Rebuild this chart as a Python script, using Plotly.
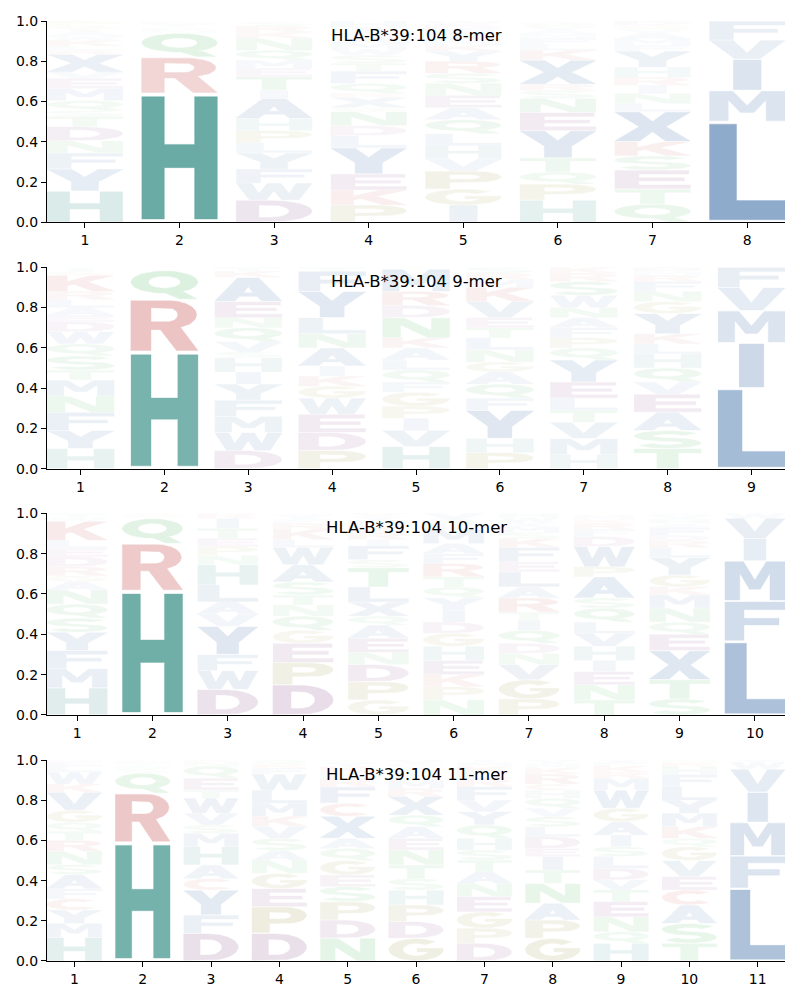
import numpy as np
import plotly.graph_objects as go
from plotly.subplots import make_subplots

TITLES = ["HLA-B*39:104 8-mer", "HLA-B*39:104 9-mer",
          "HLA-B*39:104 10-mer", "HLA-B*39:104 11-mer"]

# letters stacked bottom -> top, with heights (probability) per position
MER8_LETTERS = ["HYFNDTSQMEVXRLKWAIGP", "HRQNKSYFE", "DWFYLPHAITEMQNKRS",
                "PKEYLDNGXRQFTSWMAVIH", "IGPVHLQAENSRYKMTFDW", "HPQTYENSRXKLFMAVG",
                "QTESKXLNIRHYFMAVGD", "LMIVF"]
MER8_HEIGHTS = [
    [.155, .11, .08, .06, .07, .05, .03, .05, .06, .05, .03, .09, .02, .02, .03, .02, .02, .015, .015, .025],
    [.64, .18, .12, .015, .01, .01, .01, .01, .005],
    [.11, .085, .07, .08, .05, .06, .06, .10, .04, .07, .04, .04, .05, .06, .03, .03, .02],
    [.085, .075, .08, .13, .06, .05, .07, .02, .05, .02, .05, .06, .04, .04, .03, .03, .03, .02, .03, .03],
    [.085, .08, .09, .06, .065, .06, .07, .06, .06, .06, .05, .06, .05, .03, .03, .03, .02, .02, .02],
    [.11, .08, .06, .07, .135, .09, .07, .04, .03, .12, .05, .03, .03, .02, .02, .02, .02],
    [.09, .075, .095, .07, .07, .15, .04, .05, .04, .04, .05, .08, .03, .03, .03, .02, .02, .02],
    [.50, .155, .155, .095, .095],
]

MER9_LETTERS = ["HYFNMTSQWDEALRKGI", "HRQKNS", "DWMFYIHSVQNEAKT", "PDEWGKIANLYFT",
                "HVIPGFQLAKNDRMS", "PHYFQAGNLTEVKMRS", "HMVTLEYQPFANWSRK",
                "TSAEVQHLKYGNFRMD", "LIMVF"]
MER9_HEIGHTS = [
    [.10, .09, .09, .08, .08, .05, .07, .06, .06, .05, .03, .04, .04, .04, .08, .02, .02],
    [.58, .26, .145, .005, .005, .005],
    [.09, .09, .08, .08, .08, .06, .07, .03, .05, .07, .05, .08, .12, .03, .02],
    [.09, .09, .09, .08, .06, .05, .05, .09, .07, .08, .13, .10, .02],
    [.11, .08, .06, .06, .07, .05, .06, .05, .06, .05, .10, .06, .07, .11, .01],
    [.08, .07, .14, .06, .07, .06, .05, .06, .06, .05, .05, .08, .07, .04, .03, .03],
    [.07, .08, .08, .06, .06, .08, .11, .06, .05, .05, .05, .05, .06, .07, .04, .03],
    [.10, .09, .09, .09, .06, .07, .07, .05, .05, .10, .06, .05, .05, .03, .02, .02],
    [.40, .225, .16, .115, .10],
]

MER10_LETTERS = ["HMFYSQNAGRDELKWT", "HRQNSK", "DWFYVALHNPETIR", "DPEGQNTSAWLKRFYV",
                 "GPDNEAQXLTSFIRKMYV", "NPKEHGDIYQTRFAMLSV", "PGVNDQITRALEFKSMYWH",
                 "TNEIHVLQSAPWDFRKMG", "STXEQNMKGYLRDFAHVW", "LFMIVW"]
MER10_HEIGHTS = [
    [.135, .095, .09, .09, .07, .07, .07, .04, .03, .045, .05, .04, .04, .095, .02, .02],
    [.615, .235, .125, .01, .008, .007],
    [.127, .093, .08, .14, .06, .06, .085, .10, .045, .045, .04, .05, .05, .025],
    [.15, .11, .095, .065, .07, .055, .05, .065, .085, .085, .04, .05, .03, .02, .02, .01],
    [.075, .09, .085, .06, .07, .065, .045, .07, .075, .095, .04, .07, .03, .035, .03, .03, .02, .015],
    [.075, .065, .06, .07, .07, .065, .055, .06, .06, .055, .05, .065, .05, .05, .07, .03, .02, .03],
    [.08, .095, .075, .055, .05, .065, .05, .04, .07, .055, .075, .05, .07, .045, .03, .03, .02, .025, .02],
    [.075, .075, .065, .055, .07, .065, .055, .07, .05, .105, .05, .10, .05, .035, .03, .02, .02, .01],
    [.08, .095, .145, .08, .06, .07, .065, .04, .06, .085, .05, .035, .025, .04, .02, .02, .02, .01],
    [.365, .20, .20, .11, .10, .025],
]

MER11_LETTERS = ["HMYCFASNRTQGVKWLED", "HRQSNTKE", "DFYCAHMSVWTEQNK", "DPEGNASVKMLWFRQ",
                 "NDPSEGQAXCFRLKYT", "GDPHSTNEAQXRMLFYKV", "DPGENATSHQYVFRLKMI",
                 "GPANTIEDLSVQHCRKMY", "HQNETVDLSIAGWMRKFY", "TSACEVGQKMYLFHRN", "LFMIVWY"]
MER11_HEIGHTS = [
    [.118, .069, .067, .056, .05, .07, .05, .065, .055, .045, .045, .06, .09, .04, .06, .03, .02, .01],
    [.59, .245, .10, .02, .015, .015, .01, .005],
    [.138, .091, .124, .057, .068, .091, .066, .042, .058, .075, .04, .06, .06, .02, .01],
    [.138, .132, .09, .076, .064, .05, .06, .06, .05, .065, .065, .08, .03, .02, .02],
    [.113, .091, .091, .075, .058, .072, .06, .05, .11, .065, .082, .04, .03, .03, .02, .013],
    [.113, .083, .083, .074, .057, .068, .074, .058, .058, .058, .092, .04, .04, .03, .02, .02, .012, .02],
    [.088, .075, .082, .075, .066, .058, .058, .05, .058, .067, .066, .057, .067, .04, .03, .03, .02, .013],
    [.113, .091, .083, .099, .067, .067, .04, .06, .048, .05, .042, .05, .04, .03, .05, .03, .02, .02],
    [.088, .058, .074, .075, .058, .05, .058, .059, .049, .058, .066, .067, .09, .06, .03, .03, .02, .01],
    [.088, .099, .092, .074, .067, .08, .069, .041, .058, .067, .065, .067, .06, .04, .02, .013],
    [.362, .161, .167, .15, .115, .035, .01],
]

LOGOS = [(MER8_LETTERS, MER8_HEIGHTS), (MER9_LETTERS, MER9_HEIGHTS),
         (MER10_LETTERS, MER10_HEIGHTS), (MER11_LETTERS, MER11_HEIGHTS)]

# ---------------- colours (chemistry-like scheme, opacity ~ height) ----------------
BLUE = (31, 87, 153)
TEAL = (22, 124, 114)
RED = (182, 30, 30)
GREEN = (20, 160, 45)
PURPLE = (105, 30, 105)
OLIVE = (125, 115, 10)
BASE = {}
for c in "AILMFVWYX":
    BASE[c] = BLUE
BASE["H"] = TEAL
for c in "RKC":
    BASE[c] = RED
for c in "QNST":
    BASE[c] = GREEN
for c in "DE":
    BASE[c] = PURPLE
for c in "PG":
    BASE[c] = OLIVE


def color_for(ch, h):
    a = min(1.0, h)
    r, g, b = [int(round(255 - a * (255 - v))) for v in BASE[ch]]
    return f"rgb({r},{g},{b})"


# ---------------- glyph outlines in a unit box ----------------
def arc(cx, cy, rx, ry, a0, a1, n=48):
    t = np.radians(np.linspace(a0, a1, n))
    return np.column_stack([cx + rx * np.cos(t), cy + ry * np.sin(t)])


def area(p):
    p = np.asarray(p, float)
    x, y = p[:, 0], p[:, 1]
    return 0.5 * np.sum(x * np.roll(y, -1) - np.roll(x, -1) * y)


def keyhole(outer, inner):
    outer = np.asarray(outer, float)
    inner = np.asarray(inner, float)
    if area(outer) < 0:
        outer = outer[::-1]
    if area(inner) > 0:
        inner = inner[::-1]
    return np.vstack([outer, outer[:1], inner, inner[:1], outer[:1]])


def stroke(center, hx, hy):
    cx, cy = center[:, 0], center[:, 1]
    tx, ty = np.gradient(cx), np.gradient(cy)
    ln = np.hypot(tx, ty)
    nx, ny = -ty / ln, tx / ln
    ox, oy = cx + nx * hx, cy + ny * hy
    ix, iy = cx - nx * hx, cy - ny * hy
    return np.column_stack([np.r_[ox, ix[::-1]], np.r_[oy, iy[::-1]]])


S_center = np.vstack([arc(0.5, 0.705, 0.36, 0.205, 25, 270),
                      arc(0.5, 0.295, 0.36, 0.205, 90, -155)[1:]])

GLYPHS = {
    "A": [keyhole([(0, 0), (0.3, 0), (0.37, 0.2), (0.63, 0.2), (0.7, 0), (1, 0), (0.66, 1), (0.34, 1)],
                  [(0.43, 0.36), (0.57, 0.36), (0.5, 0.62)])],
    "C": [np.vstack([arc(.5, .5, .5, .5, 45, 315), arc(.5, .5, .24, .3, 315, 45)])],
    "D": [keyhole(np.vstack([[(0, 0), (0.45, 0)], arc(.45, .5, .55, .5, -90, 90), [(0.45, 1), (0, 1)]]),
                  np.vstack([[(0.3, 0.2), (0.45, 0.2)], arc(.45, .5, .25, .3, -90, 90), [(0.45, 0.8), (0.3, 0.8)]]))],
    "E": [np.array([(0, 0), (1, 0), (1, 0.2), (0.32, 0.2), (0.32, 0.42), (0.92, 0.42), (0.92, 0.6),
                    (0.32, 0.6), (0.32, 0.8), (0.98, 0.8), (0.98, 1), (0, 1)])],
    "F": [np.array([(0, 0), (0.32, 0), (0.32, 0.4), (0.9, 0.4), (0.9, 0.58), (0.32, 0.58), (0.32, 0.8),
                    (1, 0.8), (1, 1), (0, 1)])],
    "G": [np.vstack([arc(.5, .5, .5, .5, 45, 352), [(1, 0.56), (0.52, 0.56), (0.52, 0.4), (0.74, 0.4)],
                     arc(.5, .5, .24, .3, 335, 45)])],
    "H": [np.array([(0, 0), (0.3, 0), (0.3, 0.42), (0.7, 0.42), (0.7, 0), (1, 0), (1, 1), (0.7, 1),
                    (0.7, 0.61), (0.3, 0.61), (0.3, 1), (0, 1)])],
    "I": [np.array([(0.315, 0), (0.685, 0), (0.685, 1), (0.315, 1)])],
    "K": [np.array([(0, 0), (0.3, 0), (0.3, 0.33), (0.4, 0.44), (0.68, 0), (1, 0), (0.6, 0.6), (0.98, 1),
                    (0.64, 1), (0.3, 0.62), (0.3, 1), (0, 1)])],
    "L": [np.array([(0, 0), (1, 0), (1, 0.2), (0.36, 0.2), (0.36, 1), (0, 1)])],
    "M": [np.array([(0, 0), (0.25, 0), (0.25, 0.7), (0.41, 0.28), (0.59, 0.28), (0.75, 0.7), (0.75, 0),
                    (1, 0), (1, 1), (0.69, 1), (0.5, 0.52), (0.31, 1), (0, 1)])],
    "N": [np.array([(0, 0), (0.27, 0), (0.27, 0.64), (0.67, 0), (1, 0), (1, 1), (0.73, 1), (0.73, 0.36),
                    (0.33, 1), (0, 1)])],
    "P": [keyhole(np.vstack([[(0, 0), (0.32, 0), (0.32, 0.36), (0.6, 0.36)], arc(.6, .68, .4, .32, -90, 90),
                             [(0.6, 1), (0, 1)]]),
                  np.vstack([[(0.32, 0.54), (0.56, 0.54)], arc(.56, .68, .16, .14, -90, 90),
                             [(0.56, 0.82), (0.32, 0.82)]]))],
    "Q": [keyhole(arc(.5, .6, .5, .4, 0, 360), arc(.5, .6, .24, .22, 0, 360)),
          np.array([(0.5, 0.22), (0.72, 0.0), (0.98, 0.0), (0.78, 0.26)])],
    "R": [keyhole(np.vstack([[(0, 0), (0.3, 0), (0.3, 0.42), (0.44, 0.42), (0.68, 0), (1, 0), (0.74, 0.47)],
                             arc(.58, .72, .4, .28, -50, 90), [(0.58, 1), (0, 1)]]),
                  np.vstack([[(0.3, 0.58), (0.55, 0.58)], arc(.55, .72, .15, .14, -90, 90),
                             [(0.55, 0.86), (0.3, 0.86)]]))],
    "S": [stroke(S_center, 0.14, 0.09)],
    "T": [np.array([(0, 1), (1, 1), (1, 0.8), (0.66, 0.8), (0.66, 0), (0.34, 0), (0.34, 0.8), (0, 0.8)])],
    "V": [np.array([(0, 1), (0.32, 1), (0.5, 0.32), (0.68, 1), (1, 1), (0.67, 0), (0.33, 0)])],
    "W": [np.array([(0, 1), (0.21, 1), (0.3, 0.38), (0.41, 1), (0.59, 1), (0.7, 0.38), (0.79, 1), (1, 1),
                    (0.83, 0), (0.6, 0), (0.5, 0.55), (0.4, 0), (0.17, 0)])],
    "X": [np.array([(0, 1), (0.33, 1), (0.5, 0.68), (0.67, 1), (1, 1), (0.68, 0.5), (1, 0), (0.67, 0),
                    (0.5, 0.32), (0.33, 0), (0, 0), (0.32, 0.5)])],
    "Y": [np.array([(0, 1), (0.33, 1), (0.5, 0.64), (0.67, 1), (1, 1), (0.68, 0.42), (0.68, 0),
                    (0.32, 0), (0.32, 0.42)])],
}

LETTER_W = 0.8
VPAD = 0.025

row_domains = [[0.7859, 1.0], [0.5237, 0.7380], [0.2617, 0.4763], [0.0, 0.2138]]

fig = make_subplots(rows=4, cols=1)

for k, (letters, heights) in enumerate(LOGOS):
    groups = {}
    for j, (col_l, col_h) in enumerate(zip(letters, heights)):
        pos = j + 1
        y0 = 0.0
        for ch, h in zip(col_l, col_h):
            col = color_for(ch, h)
            gx, gy = groups.setdefault(col, ([], []))
            for poly in GLYPHS[ch]:
                xs = pos - LETTER_W / 2 + LETTER_W * poly[:, 0]
                ys = y0 + h * (VPAD + (1 - 2 * VPAD) * poly[:, 1])
                gx.extend(xs.tolist() + [None])
                gy.extend(ys.tolist() + [None])
            y0 += h
    for col, (gx, gy) in groups.items():
        fig.add_trace(go.Scatter(x=gx, y=gy, mode="lines", fill="toself", fillcolor=col,
                                 line=dict(width=0.4, color=col), hoverinfo="skip",
                                 showlegend=False), row=k + 1, col=1)

    n = len(letters)
    axfont = dict(family="DejaVu Sans", size=14, color="black")
    fig.update_xaxes(range=[0.6, n + 0.4], tickmode="array", tickvals=list(range(1, n + 1)),
                     ticktext=[str(i) for i in range(1, n + 1)],
                     showline=True, linecolor="black", linewidth=1, ticks="outside", ticklen=5,
                     tickwidth=1, tickcolor="black", showgrid=False, zeroline=False,
                     tickfont=axfont, fixedrange=True, row=k + 1, col=1)
    fig.update_yaxes(range=[0, 1], tickmode="array", tickvals=[0, 0.2, 0.4, 0.6, 0.8, 1.0],
                     ticktext=["0.0", "0.2", "0.4", "0.6", "0.8", "1.0"],
                     showline=True, linecolor="black", linewidth=1, ticks="outside", ticklen=5,
                     tickwidth=1, tickcolor="black", showgrid=False, zeroline=False,
                     tickfont=axfont, fixedrange=True, domain=row_domains[k], row=k + 1, col=1)
    sfx = "" if k == 0 else str(k + 1)
    fig.add_annotation(text=TITLES[k], xref=f"x{sfx} domain", yref=f"y{sfx} domain",
                       x=0.5, y=0.929, xanchor="center", yanchor="middle", showarrow=False,
                       font=dict(family="DejaVu Sans", size=16.5, color="black"))

fig.update_layout(width=800, height=1000, margin=dict(l=47, r=15, t=21, b=39),
                  paper_bgcolor="white", plot_bgcolor="white")

fig.write_html("out.html", config={"displayModeBar": False},
               post_script="document.body.style.margin='0px';")
